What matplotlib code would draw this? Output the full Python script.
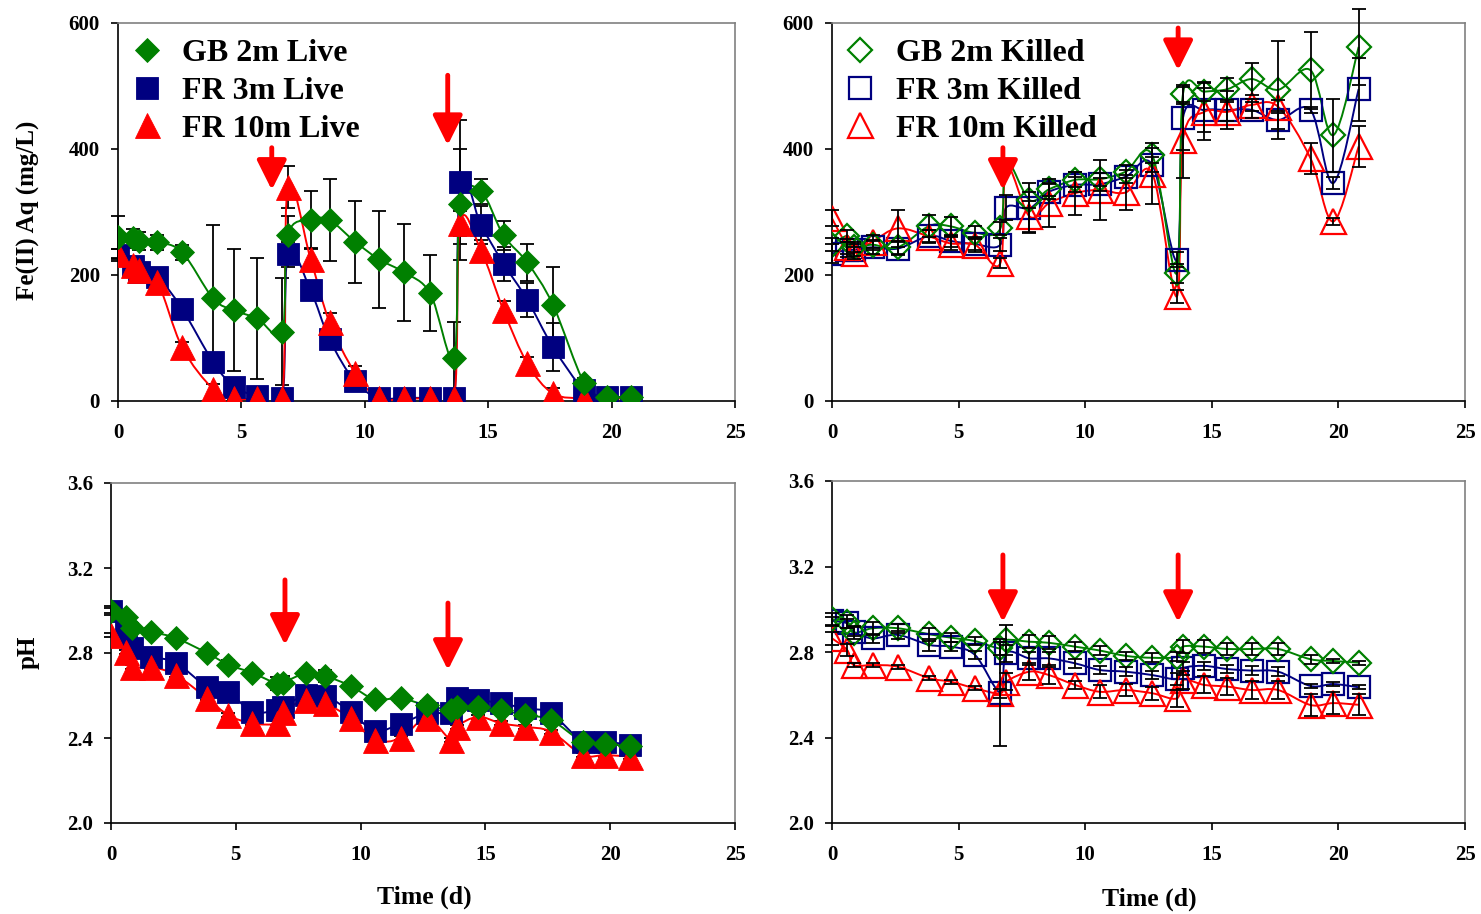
import numpy as np
import matplotlib
matplotlib.use("Agg")
import matplotlib.pyplot as plt
from matplotlib.path import Path
from matplotlib.patches import PathPatch
from matplotlib.lines import Line2D

plt.rcParams['font.family'] = ['Liberation Serif', 'DejaVu Serif']
plt.rcParams['font.weight'] = 'bold'

# sampling times (d)
time_days = [0, 0.6, 0.85, 1.6, 2.6, 3.85, 4.7, 5.65, 6.65, 6.88, 7.8, 8.57, 9.6,
             10.57, 11.6, 12.65, 13.62, 13.86, 14.7, 15.62, 16.58, 17.62, 18.9, 19.8, 20.8]

# Fe(II) aq, live incubations (mg/L)
fe_live_gb2 = [260, 258, 254, 252, 236, 163, 144, 131, 110, 263, 288, 287, 253,
               225, 204, 171, 69, 312, 333, 263, 220, 153, 28, 7, 7]
fe_live_fr3 = [232, 215, 205, 197, 146, 62, 23, 8, 5, 233, 176, 98, 31,
               5, 5, 5, 5, 348, 280, 218, 161, 86, 17, 7, 7]
fe_live_fr10 = [234, 216, 208, 189, 85, 19, 4, 4, 4, 340, 226, 125, 45,
                4, 4, 4, 4, 282, 240, 144, 60, 12, 4, 4, 4]
fe_live_gb2_err = [33, 15, 15, 12, 12, 116, 97, 96, 85, 30, 45, 65, 65,
                   77, 77, 60, 57, 88, 20, 23, 30, 60, 8, 5, 5]
fe_live_fr3_err = [10, 10, 10, 12, 8, 8, 5, 3, 3, 20, 15, 15, 10,
                   3, 3, 3, 3, 98, 30, 27, 27, 38, 5, 3, 3]
fe_live_fr10_err = [8, 8, 8, 8, 8, 8, 3, 3, 3, 33, 15, 15, 10,
                    3, 3, 3, 3, 20, 15, 15, 10, 8, 3, 3, 3]

# Fe(II) aq, killed controls (mg/L)
fe_killed_gb2 = [248, 262, 245, 248, 244, 278, 277, 267, 274, 380, 319, 336, 351,
                 352, 364, 390, 203, 487, 491, 495, 511, 494, 525, 422, 562]
fe_killed_fr3 = [234, 240, 240, 244, 242, 262, 254, 249, 248, 307, 306, 332, 343,
                 344, 356, 375, 224, 449, 462, 462, 462, 446, 462, 346, 495]
fe_killed_fr10 = [290, 245, 235, 253, 274, 261, 250, 248, 219, 372, 293, 314, 330,
                  335, 331, 361, 166, 414, 459, 459, 470, 467, 385, 285, 404]
fe_killed_gb2_err = [10, 10, 8, 8, 10, 17, 15, 10, 10, 0, 12, 10, 12,
                     10, 10, 12, 15, 15, 15, 17, 25, 78, 61, 58, 60]
fe_killed_fr3_err = [15, 12, 10, 10, 10, 10, 10, 10, 10, 20, 40, 12, 12,
                     10, 10, 12, 12, 50, 35, 30, 12, 15, 5, 10, 50]
fe_killed_fr10_err = [13, 12, 10, 10, 29, 10, 10, 12, 8, 0, 25, 38, 34,
                      48, 28, 49, 10, 60, 45, 15, 10, 10, 25, 5, 33]
# points on the killed Fe(II) curves drawn without a marker
fe_killed_no_marker = [9]

# pH, live incubations
ph_live_gb2 = [3.00, 2.97, 2.92, 2.90, 2.87, 2.80, 2.745, 2.707, 2.655, 2.66, 2.704, 2.692, 2.645,
               2.582, 2.587, 2.553, 2.532, 2.547, 2.547, 2.532, 2.508, 2.485, 2.383, 2.372, 2.362]
ph_live_fr3 = [3.00, 2.90, 2.822, 2.783, 2.754, 2.641, 2.618, 2.524, 2.53, 2.547, 2.602, 2.60, 2.524,
               2.434, 2.466, 2.516, 2.52, 2.587, 2.579, 2.563, 2.54, 2.516, 2.383, 2.383, 2.367]
ph_live_fr10 = [2.885, 2.806, 2.735, 2.735, 2.696, 2.587, 2.508, 2.469, 2.469, 2.524, 2.579, 2.563, 2.493,
                2.391, 2.399, 2.493, 2.391, 2.453, 2.50, 2.469, 2.453, 2.43, 2.32, 2.32, 2.312]
ph_live_gb2_err = [0.02, 0.02, 0.02, 0.02, 0.02, 0.02, 0.02, 0.02, 0.03, 0.03, 0.02, 0.03, 0.02,
                   0.02, 0.02, 0.02, 0.02, 0.02, 0.02, 0.02, 0.02, 0.02, 0.02, 0.02, 0.02]
ph_live_fr3_err = [0.01] * 17 + [0.04] + [0.01] * 7
ph_live_fr10_err = [0.01] * 25

# pH, killed controls
ph_killed_gb2 = [2.953, 2.942, 2.89, 2.911, 2.911, 2.883, 2.867, 2.851, 2.817, 2.856, 2.848, 2.843, 2.825,
                 2.807, 2.782, 2.773, 2.778, 2.825, 2.825, 2.814, 2.814, 2.814, 2.766, 2.758, 2.75]
ph_killed_fr3 = [2.946, 2.934, 2.895, 2.864, 2.88, 2.833, 2.825, 2.786, 2.61, 2.794, 2.77, 2.77, 2.747,
                 2.716, 2.708, 2.692, 2.674, 2.724, 2.735, 2.72, 2.713, 2.708, 2.641, 2.65, 2.635]
ph_killed_fr10 = [2.864, 2.809, 2.739, 2.739, 2.731, 2.677, 2.661, 2.63, 2.607, 2.661, 2.708, 2.692, 2.646,
                  2.614, 2.622, 2.607, 2.583, 2.669, 2.646, 2.638, 2.622, 2.622, 2.552, 2.561, 2.553]
ph_killed_gb2_err = [0.03, 0.03, 0.03, 0.03, 0.02, 0.03, 0.02, 0.02, 0.03, 0.07, 0.03, 0.03, 0.02,
                     0.02, 0.02, 0.02, 0.02, 0.03, 0.03, 0.03, 0.03, 0.03, 0.02, 0.01, 0.01]
ph_killed_fr3_err = [0.02, 0.02, 0.02, 0.02, 0.02, 0.03, 0.02, 0.02, 0.25, 0.04, 0.03, 0.03, 0.02,
                     0.02, 0.02, 0.02, 0.03, 0.03, 0.02, 0.02, 0.02, 0.02, 0.01, 0.01, 0.01]
ph_killed_fr10_err = [0.03, 0.03, 0.01, 0.01, 0.01, 0.01, 0.01, 0.01, 0.02, 0.04, 0.04, 0.04, 0.02,
                      0.03, 0.03, 0.03, 0.04, 0.04, 0.04, 0.04, 0.04, 0.04, 0.05, 0.05, 0.05]

# Fe(II) amendment arrows: (day, arrow tail, arrow tip)
arrows_fe_live = [(6.23, 402, 335), (13.36, 517, 406)]
arrows_fe_killed = [(6.75, 402, 335), (13.67, 592, 525)]
arrows_ph_live = [(6.97, 3.144, 2.838), (13.5, 3.035, 2.72)]
arrows_ph_killed = [(6.75, 3.254, 2.94), (13.67, 3.254, 2.94)]

GREEN = '#008000'
NAVY = '#000080'
RED = '#FF0000'

W, H = 1481, 914


def box(x0, y0, x1, y1):
    return [x0 / W, 1 - y1 / H, (x1 - x0) / W, (y1 - y0) / H]


def smooth_path(x, y):
    # cubic Bezier through the points (Catmull-Rom tangents), like a smoothed line
    pts = np.column_stack([x, y]).astype(float)
    ext = np.vstack([pts[0], pts, pts[-1]])
    verts = [pts[0]]
    codes = [Path.MOVETO]
    for i in range(len(pts) - 1):
        p0, p1, p2, p3 = ext[i], ext[i + 1], ext[i + 2], ext[i + 3]
        verts += [p1 + (p2 - p0) / 6, p2 - (p3 - p1) / 6, p2]
        codes += [Path.CURVE4] * 3
    return Path(verts, codes)


def draw_series(ax, y, err, color, marker, ms, filled, skip=()):
    ax.errorbar(time_days, y, yerr=err, fmt='none', ecolor='black', elinewidth=1.3,
                capsize=5, capthick=1.3, zorder=2 if filled else 5, clip_on=False)
    ax.add_patch(PathPatch(smooth_path(time_days, y), fill=False, edgecolor=color,
                           lw=1.4, zorder=3))
    shown = [i for i in range(len(time_days)) if i not in skip]
    ax.plot(time_days, y, ls='none', marker=marker, ms=ms, markevery=shown,
            mfc=color if filled else 'none', mec=color,
            mew=0.6 if filled else 1.6, zorder=4)


def style_axes(ax, ylim, yticks, fmt):
    ax.set_xlim(0, 25)
    ax.set_ylim(*ylim)
    ax.set_xticks([0, 5, 10, 15, 20, 25])
    ax.set_yticks(yticks)
    ax.set_yticklabels([fmt.format(v) for v in yticks])
    for s in ['left', 'bottom']:
        ax.spines[s].set_color('black')
        ax.spines[s].set_linewidth(1.2)
    for s in ['top', 'right']:
        ax.spines[s].set_color('#808080')
        ax.spines[s].set_linewidth(1.2)
    ax.tick_params(axis='x', direction='out', length=5, width=1.2, pad=11, labelsize=15)
    ax.tick_params(axis='y', direction='out', length=5, width=1.2, pad=8, labelsize=15)
    for lab in ax.get_xticklabels() + ax.get_yticklabels():
        lab.set_fontweight('bold')


def draw_arrows(ax, arrows):
    for x, y0, y1 in arrows:
        ax.annotate('', xy=(x, y1), xytext=(x, y0),
                    arrowprops=dict(arrowstyle='-|>,head_width=0.45,head_length=0.9',
                                    lw=3.5, color=RED, shrinkA=0, shrinkB=0,
                                    mutation_scale=20), zorder=6)


fig = plt.figure(figsize=(W / 100, H / 100), dpi=100)
ax_fl = fig.add_axes(box(118, 23, 735, 401))
ax_fk = fig.add_axes(box(832, 23, 1465, 401))
ax_pl = fig.add_axes(box(111, 483, 735, 823))
ax_pk = fig.add_axes(box(832, 481, 1465, 823))

# live panels: filled markers
for ax, (gb, fr3, fr10), (e1, e2, e3) in [
        (ax_fl, (fe_live_gb2, fe_live_fr3, fe_live_fr10),
         (fe_live_gb2_err, fe_live_fr3_err, fe_live_fr10_err)),
        (ax_pl, (ph_live_gb2, ph_live_fr3, ph_live_fr10),
         (ph_live_gb2_err, ph_live_fr3_err, ph_live_fr10_err))]:
    draw_series(ax, fr3, e2, NAVY, 's', 16, True)
    draw_series(ax, fr10, e3, RED, '^', 18, True)
    draw_series(ax, gb, e1, GREEN, 'D', 12.5, True)

# killed panels: open markers
draw_series(ax_fk, fe_killed_fr3, fe_killed_fr3_err, NAVY, 's', 16, False)
draw_series(ax_fk, fe_killed_fr10, fe_killed_fr10_err, RED, '^', 18, False,
            skip=fe_killed_no_marker)
draw_series(ax_fk, fe_killed_gb2, fe_killed_gb2_err, GREEN, 'D', 12.5, False,
            skip=fe_killed_no_marker)
draw_series(ax_pk, ph_killed_fr3, ph_killed_fr3_err, NAVY, 's', 16, False)
draw_series(ax_pk, ph_killed_fr10, ph_killed_fr10_err, RED, '^', 18, False)
draw_series(ax_pk, ph_killed_gb2, ph_killed_gb2_err, GREEN, 'D', 12.5, False)

for ax in (ax_fl, ax_fk):
    style_axes(ax, (0, 600), [0, 200, 400, 600], '{:.0f}')
for ax in (ax_pl, ax_pk):
    style_axes(ax, (2.0, 3.6), [2.0, 2.4, 2.8, 3.2, 3.6], '{:.1f}')

draw_arrows(ax_fl, arrows_fe_live)
draw_arrows(ax_fk, arrows_fe_killed)
draw_arrows(ax_pl, arrows_ph_live)
draw_arrows(ax_pk, arrows_ph_killed)


# legends
def legend_handles(filled):
    out = []
    for color, marker, ms in [(GREEN, 'D', 12.5), (NAVY, 's', 16), (RED, '^', 18)]:
        out.append(Line2D([], [], ls='none', marker=marker, ms=ms,
                          mfc=color if filled else 'none', mec=color,
                          mew=0.6 if filled else 1.6))
    return out


for ax, filled, labels in [
        (ax_fl, True, ['GB 2m Live', 'FR 3m Live', 'FR 10m Live']),
        (ax_fk, False, ['GB 2m Killed', 'FR 3m Killed', 'FR 10m Killed'])]:
    leg = ax.legend(legend_handles(filled), labels, loc='upper left',
                    bbox_to_anchor=(-0.008, 1.0), frameon=False,
                    prop={'weight': 'bold', 'size': 23}, labelspacing=0.26,
                    handlelength=1.1, handletextpad=0.55, borderpad=0.3,
                    borderaxespad=0.2)
    leg.set_zorder(7)

fig.text(28 / W, 1 - 210 / H, 'Fe(II) Aq (mg/L)', rotation=90, ha='center',
         va='center', fontsize=18, fontweight='bold')
fig.text(28 / W, 1 - 652 / H, 'pH', rotation=90, ha='center', va='center',
         fontsize=18, fontweight='bold')
fig.text(424 / W, 1 - 897 / H, 'Time (d)', ha='center', va='center',
         fontsize=18.5, fontweight='bold')
fig.text(1149 / W, 1 - 899 / H, 'Time (d)', ha='center', va='center',
         fontsize=18.5, fontweight='bold')

fig.savefig('out.png', dpi=100)
